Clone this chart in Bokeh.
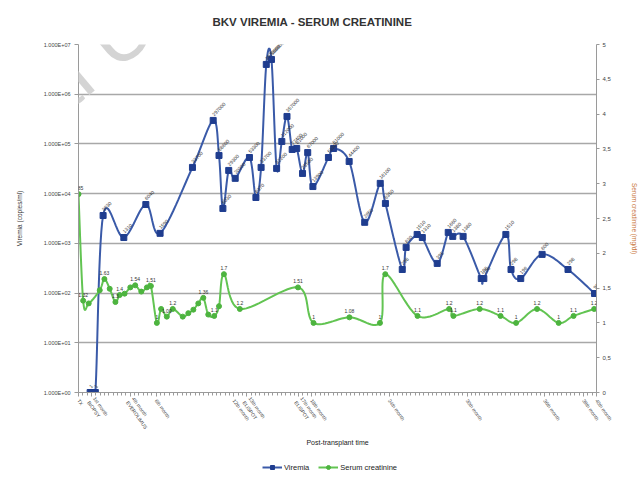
import numpy as np
from bokeh.plotting import figure
from bokeh.layouts import column
from bokeh.models import (Range1d, LinearAxis, LinearScale, FixedTicker, Label,
                          Legend, LegendItem, ColumnDataSource, LabelSet)
from bokeh.core.properties import value
from bokeh.embed import file_html
from bokeh.resources import INLINE

# ---------------- data ----------------
title_text = "BKV VIREMIA - SERUM CREATININE"

# months after transplant (x) and viremia copies/ml (y)
vir_x = [0.9, 1.3, 1.9, 3.5, 5.2, 6.3, 8.8, 10.4, 10.85, 11.15, 11.6, 12.1,
         13.2, 13.7, 14.1, 14.5, 14.9, 15.3, 15.7, 16.1, 16.5, 16.85, 17.3,
         17.7, 18.1, 19.3, 19.7, 20.9, 22.1, 23.3, 23.7, 25.0, 25.3, 26.15,
         26.55, 27.7, 28.55, 28.9, 29.7, 31.1, 31.3, 33.0, 33.4, 34.15, 35.8,
         37.8, 39.85]
vir_y = [1, 1, 3630, 1310, 6040, 1590, 33700, 297000, 58600, 5030, 29300,
         20300, 53300, 8370, 33700, 3970000, 5000000, 32200, 112000, 357000,
         77400, 81000, 25500, 67000, 13900, 53300, 81000, 44400, 2650, 16100,
         6350, 298, 830, 1510, 1310, 395, 1660, 1380, 1380, 196, 196, 1510,
         298, 196, 600, 298, 98]

# months after transplant (x) and serum creatinine mg/dl (y)
cr_x = [0, 0.36, 0.79, 1.64, 2.0, 2.41, 2.85, 3.18, 3.56, 4.0, 4.38, 4.85,
        5.28, 5.59, 6.05, 6.38, 6.82, 7.28, 8.05, 8.48, 8.87, 9.25, 9.64,
        10.02, 10.48, 10.85, 11.23, 12.46, 16.95, 18.15, 20.92, 23.28, 23.69,
        26.18, 28.62, 28.95, 30.98, 32.59, 33.79, 35.41, 37.08, 38.23, 39.82]
cr_y = [2.85, 1.32, 1.28, 1.47, 1.63, 1.49, 1.3, 1.4, 1.42, 1.51, 1.54, 1.45,
        1.51, 1.53, 1.0, 1.2, 1.09, 1.2, 1.09, 1.14, 1.19, 1.28, 1.36, 1.12,
        1.1, 1.24, 1.7, 1.2, 1.51, 1.0, 1.08, 1.0, 1.7, 1.1, 1.2, 1.1, 1.2,
        1.1, 1.0, 1.2, 1.0, 1.1, 1.2]
cr_labels = ["2.85", "1.32", "", "", "1.63", "", "1.3", "1.4", "", "", "1.54",
             "", "", "1.51", "1", "", "1.09", "1.2", "", "", "", "", "1.36",
             "", "1.1", "", "1.7", "1.2", "1.51", "1", "1.08", "1", "1.7",
             "1.1", "1.2", "1.1", "1.2", "1.1", "1", "1.2", "1", "1.1", "1.2"]

x_tick_pos = [0, 1, 4, 6, 12, 13, 17, 18, 24, 30, 36, 39, 40]
x_tick_labels = ["TX", "1st month\nBIOPSY", "4th month\nEVEROLIMUS",
                 "6th month", "12th month", "13th month\nELISPOT",
                 "17th month\nELISPOT", "18th month", "24th month",
                 "30th month", "36th month", "39th month", "40th month"]

left_ticks = [1, 10, 100, 1000, 10000, 100000, 1000000, 10000000]
left_labels = ["1.000E+00", "1.000E+01", "1.000E+02", "1.000E+03",
               "1.000E+04", "1.000E+05", "1.000E+06", "1.000E+07"]
right_ticks = [0, 0.5, 1, 1.5, 2, 2.5, 3, 3.5, 4, 4.5, 5]
right_labels = ["0", "0,5", "1", "1,5", "2", "2,5", "3", "3,5", "4", "4,5", "5"]


def smooth(xs, ys, n=14):
    P = np.column_stack([np.asarray(xs, float), np.asarray(ys, float)])
    P = np.vstack([P[0], P, P[-1]])
    segs = []
    t = np.linspace(0, 1, n, endpoint=False)[:, None]
    for i in range(1, len(P) - 2):
        p0, p1, p2, p3 = P[i - 1], P[i], P[i + 1], P[i + 2]
        seg = 0.5 * (2 * p1 + (-p0 + p2) * t
                     + (2 * p0 - 5 * p1 + 4 * p2 - p3) * t ** 2
                     + (-p0 + 3 * p1 - 3 * p2 + p3) * t ** 3)
        segs.append(seg)
    segs.append(P[-2][None, :])
    S = np.vstack(segs)
    return S[:, 0], S[:, 1]


FONT = "Liberation Sans"
BLUE_LINE = "#3a5aa8"
BLUE_MK = "#1f3d8f"
GREEN_LINE = "#62c452"
GREEN_MK = "#4db43f"
AX = "#9a9a9a"

p = figure(width=640, height=455, x_range=Range1d(0, 40),
           y_range=Range1d(1, 1e7), y_axis_type="log", title=title_text,
           output_backend="svg", toolbar_location=None,
           min_border_left=78, min_border_right=42, min_border_top=44,
           min_border_bottom=63)
p.title.align = "left"
p.title.offset = 134
p.title.vertical_align = "top"
p.title.standoff = 29
p.title.text_font = FONT
p.title.text_font_size = "11.5px"
p.title.text_font_style = "bold"
p.title.text_color = "#333333"
p.outline_line_color = None
p.background_fill_color = "white"
p.extra_y_ranges = {"cr": Range1d(0, 5)}
p.extra_y_scales = {"cr": LinearScale()}

# grid
p.xgrid.visible = False
p.ygrid.ticker = FixedTicker(ticks=left_ticks)
p.ygrid.grid_line_color = "#a8a8a8"
p.ygrid.grid_line_width = 1.3

# left axis
ya = p.yaxis[0]
ya.ticker = FixedTicker(ticks=left_ticks, minor_ticks=[])
ya.major_label_overrides = {float(t): l for t, l in zip(left_ticks, left_labels)}
ya.major_label_text_font = FONT
ya.major_label_text_font_size = "5.5px"
ya.major_label_text_color = "#444444"
ya.major_label_standoff = 4
ya.axis_line_color = AX
ya.major_tick_line_color = AX
ya.major_tick_out = 4
ya.major_tick_in = 0
ya.minor_tick_line_color = None
ya.axis_label = "Viremia (copies/ml)"
ya.axis_label_text_font = FONT
ya.axis_label_text_font_size = "6.5px"
ya.axis_label_text_font_style = "normal"
ya.axis_label_text_color = "#333333"
ya.axis_label_standoff = 18

# bottom axis
xa = p.xaxis[0]
xa.ticker = FixedTicker(ticks=x_tick_pos,
                        minor_ticks=list(np.arange(0, 40.001, 1 / 3)))
xa.major_label_overrides = {float(t): l for t, l in zip(x_tick_pos, x_tick_labels)}
xa.major_label_orientation = -0.95
xa.major_label_text_font = FONT
xa.major_label_text_font_size = "5px"
xa.major_label_text_color = "#444444"
xa.major_label_standoff = 3
xa.axis_line_color = AX
xa.major_tick_line_color = AX
xa.minor_tick_line_color = AX
xa.major_tick_out = 4
xa.major_tick_in = 0
xa.minor_tick_out = 3
xa.minor_tick_in = 0
xa.axis_label = "Post-transplant time"
xa.axis_label_text_font = FONT
xa.axis_label_text_font_size = "7px"
xa.axis_label_text_font_style = "normal"
xa.axis_label_text_color = "#222222"
xa.axis_label_standoff = 2

# right axis
ra = LinearAxis(y_range_name="cr",
                ticker=FixedTicker(ticks=right_ticks, minor_ticks=[]))
ra.major_label_overrides = {float(t): l for t, l in zip(right_ticks, right_labels)}
ra.major_label_text_font = FONT
ra.major_label_text_font_size = "6px"
ra.major_label_text_color = "#444444"
ra.major_label_standoff = 3
ra.axis_line_color = AX
ra.major_tick_line_color = AX
ra.major_tick_out = 3
ra.major_tick_in = 0
ra.axis_label = "Serum creatinine (mg/dl)"
ra.axis_label_text_font = FONT
ra.axis_label_text_font_size = "6.5px"
ra.axis_label_text_font_style = "normal"
ra.axis_label_text_color = "#c8743a"
ra.axis_label_standoff = 17
p.add_layout(ra, "right")

# watermark
p.add_layout(Label(x=-14.15, y=2630, text="Official Use", angle=0.7,
                   text_baseline="alphabetic", text_font=FONT,
                   text_font_size="80px", text_color="#d4d4d4",
                   text_alpha=1.0))

# viremia
bxs, bys = smooth(vir_x, np.log10(vir_y))
p.line(bxs, 10 ** bys, line_color=BLUE_LINE, line_width=2)
vsrc = ColumnDataSource(dict(x=vir_x, y=vir_y,
                             t=[str(int(round(v))) for v in vir_y]))
p.scatter("x", "y", source=vsrc, marker="square", size=6,
          fill_color=BLUE_MK, line_color=BLUE_MK)
p.add_layout(LabelSet(x="x", y="y", text="t", source=vsrc, angle=0.785,
                      x_offset=1, y_offset=4, text_font=value(FONT),
                      text_font_size="5px", text_color="#333333"))

# creatinine
gxs, gys = smooth(cr_x, cr_y)
p.line(gxs, gys, y_range_name="cr", line_color=GREEN_LINE, line_width=2)
csrc = ColumnDataSource(dict(x=cr_x, y=cr_y, t=cr_labels))
p.scatter("x", "y", source=csrc, y_range_name="cr", marker="circle",
          size=5, fill_color=GREEN_MK, line_color=GREEN_MK)
p.add_layout(LabelSet(x="x", y="y", text="t", source=csrc,
                      y_range_name="cr", text_align="center", y_offset=4,
                      text_font=value(FONT), text_font_size="5px",
                      text_color="#333333"))

# legend strip (series drawn outside its visible range, legend only)
lf = figure(width=640, height=24, x_range=Range1d(-2, -1),
            y_range=Range1d(-2, -1), x_axis_type=None, y_axis_type=None,
            title=None, output_backend="svg", toolbar_location=None,
            min_border_left=78, min_border_right=42, min_border_top=0,
            min_border_bottom=0)
lf.outline_line_color = None
lbl = lf.line(vir_x, vir_y, line_color=BLUE_LINE, line_width=2)
lbs = lf.scatter(vir_x, vir_y, marker="square", size=6,
                 fill_color=BLUE_MK, line_color=BLUE_MK)
lgl = lf.line(cr_x, cr_y, line_color=GREEN_LINE, line_width=2)
lgs = lf.scatter(cr_x, cr_y, marker="circle", size=5,
                 fill_color=GREEN_MK, line_color=GREEN_MK)
legend = Legend(items=[LegendItem(label="Viremia", renderers=[lbl, lbs]),
                       LegendItem(label="Serum creatinine", renderers=[lgl, lgs])],
                orientation="horizontal", location="left")
legend.background_fill_alpha = 0
legend.border_line_color = None
legend.label_text_font = FONT
legend.label_text_font_size = "7.5px"
legend.label_text_color = "#222222"
legend.glyph_width = 20
legend.glyph_height = 10
legend.label_standoff = 2
legend.spacing = 9
legend.padding = 1
legend.margin = 184
lf.add_layout(legend)

open("out.html", "w").write(file_html(column(p, lf, spacing=0), INLINE))
